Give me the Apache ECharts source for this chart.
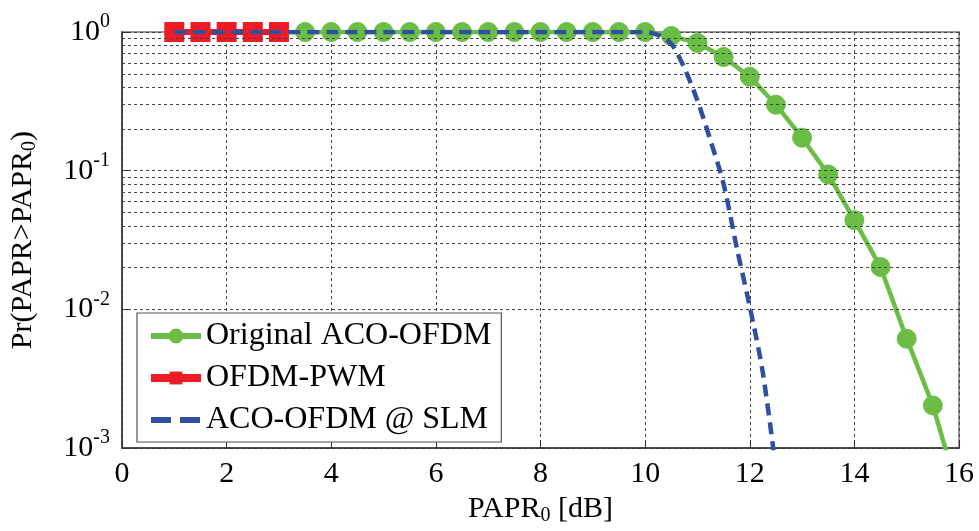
<!DOCTYPE html>
<html><head><meta charset="utf-8">
<script src="https://cdn.jsdelivr.net/npm/echarts@6/dist/echarts.min.js"></script>
<style>html,body{margin:0;padding:0;background:#fff}#c{width:979px;height:531px}</style>
</head><body><div id="c"></div>
<script>
// Original ACO-OFDM
const greenX = [1,1.5,2,2.5,3,3.5,4,4.5,5,5.5,6,6.5,7,7.5,8,8.5,9,9.5,10,10.5,11,11.5,12,12.5,13,13.5,14,14.5,15,15.5,16];
const greenY = [1,1,1,1,1,1,1,1,1,1,1,1,1,1,1,1,1,1,1,0.936,0.834,0.66,0.475,0.299,0.173,0.094,0.044,0.0202,0.00615,0.00203,0.00046];
// OFDM-PWM
const redX = [1,1.5,2,2.5,3];
const redY = [1,1,1,1,1];
// ACO-OFDM @ SLM
const blueX = [1,2,3,4,5,6,7,8,9,10,10.25,10.5,10.75,11,11.25,11.5,11.75,12,12.25,12.5];
const blueY = [1,1,1,1,1,1,1,1,1,1,0.95,0.82,0.55,0.32,0.165,0.08,0.028,0.0105,0.0035,0.0007];
const xTicks = [0,2,4,6,8,10,12,14,16];
const yDecades = [-3,-2,-1,0];
const seriesNames = ['Original ACO-OFDM','OFDM-PWM','ACO-OFDM @ SLM'];

const zip = (xs, ys) => xs.map((x, i) => [x, ys[i]]);
const minorVals = [];
for (let k = -3; k < 0; k++) for (let m = 2; m <= 9; m++) minorVals.push(m * Math.pow(10, k));
const decadeVals = yDecades.slice(1, -1).map(e => Math.pow(10, e));

const FONT = 'Liberation Serif';
const chart = echarts.init(document.getElementById('c'), null, {renderer: 'canvas'});
const gridLine = {color: '#444', type: [3, 3], width: 1};
chart.setOption({
  animation: false,
  backgroundColor: '#fff',
  grid: {left: 122, right: 20, top: 32, bottom: 81, show: true, borderColor: '#777', borderWidth: 1.5, backgroundColor: 'transparent'},
  legend: {
    data: [
      {name: seriesNames[0], lineStyle: {width: 6}},
      {name: seriesNames[1], lineStyle: {width: 8}},
      {name: seriesNames[2], itemStyle: {opacity: 0}, lineStyle: {width: 6, type: [20, 9]}}
    ],
    orient: 'vertical', left: 137, top: 313,
    backgroundColor: '#fff', borderColor: '#555', borderWidth: 1.2,
    padding: [7, 10, 6, 10], itemWidth: 50, itemHeight: 16, itemGap: 10,
    textStyle: {fontFamily: FONT, fontSize: 32, color: '#000', lineHeight: 30},
    selectedMode: false
  },
  xAxis: {
    type: 'value', min: 0, max: 16, interval: 2,
    axisLine: {show: true, lineStyle: {color: '#333', width: 1.5}},
    axisTick: {show: true, inside: true, length: 8, lineStyle: {color: '#333'}},
    axisLabel: {fontFamily: FONT, fontSize: 30, color: '#000', margin: 11},
    splitLine: {show: true, lineStyle: gridLine},
    name: '{a|PAPR}{s|0}{a| [dB]}', nameLocation: 'middle', nameGap: 40,
    nameTextStyle: {rich: {a: {fontFamily: FONT, fontSize: 30, color: '#000'}, s: {fontFamily: FONT, fontSize: 20, color: '#000', padding: [14, 0, 0, 0]}}}
  },
  yAxis: {
    type: 'log', logBase: 10, min: 0.001, max: 1,
    axisLine: {show: true, lineStyle: {color: '#333', width: 1.5}},
    axisTick: {show: true, inside: true, length: 8, lineStyle: {color: '#333'}},
    axisLabel: {
      margin: 12,
      formatter: v => '{b|10}{s|' + Math.round(Math.log10(v)) + '}',
      rich: {b: {fontFamily: FONT, fontSize: 30, color: '#000'}, s: {fontFamily: FONT, fontSize: 20, color: '#000', padding: [0, 0, 20, 0]}}
    },
    splitLine: {show: true, lineStyle: gridLine},
    name: '{a|Pr(PAPR>PAPR}{s|0}{a|)}', nameLocation: 'middle', nameGap: 82,
    nameTextStyle: {rich: {a: {fontFamily: FONT, fontSize: 30, color: '#000'}, s: {fontFamily: FONT, fontSize: 20, color: '#000', padding: [14, 0, 0, 0]}}}
  },
  series: [
    {
      type: 'line', data: [[0, 1]], symbol: 'none', lineStyle: {opacity: 0}, z: 1, silent: true,
      markLine: {silent: true, symbol: 'none', label: {show: false}, lineStyle: gridLine, animation: false,
        data: minorVals.concat(decadeVals).map(v => ({yAxis: v}))}
    },
    {
      name: seriesNames[0], type: 'line', data: zip(greenX, greenY), z: 3,
      symbol: 'circle', symbolSize: 19,
      lineStyle: {color: '#6abd45', width: 4.5},
      itemStyle: {color: '#6abd45', borderColor: '#6abd45', borderWidth: 1}
    },
    {
      name: seriesNames[1], type: 'line', data: zip(redX, redY), z: 4,
      symbol: 'rect', symbolSize: 20,
      lineStyle: {color: '#ed1c24', width: 6},
      itemStyle: {color: '#ed1c24'}
    },
    {
      name: seriesNames[2], type: 'line', data: zip(blueX, blueY), z: 5,
      symbol: 'none', smooth: 0.3,
      lineStyle: {color: '#2f4fa2', width: 4.5, type: [12, 7]},
      itemStyle: {color: '#2f4fa2'}
    }
  ]
});
</script></body></html>
